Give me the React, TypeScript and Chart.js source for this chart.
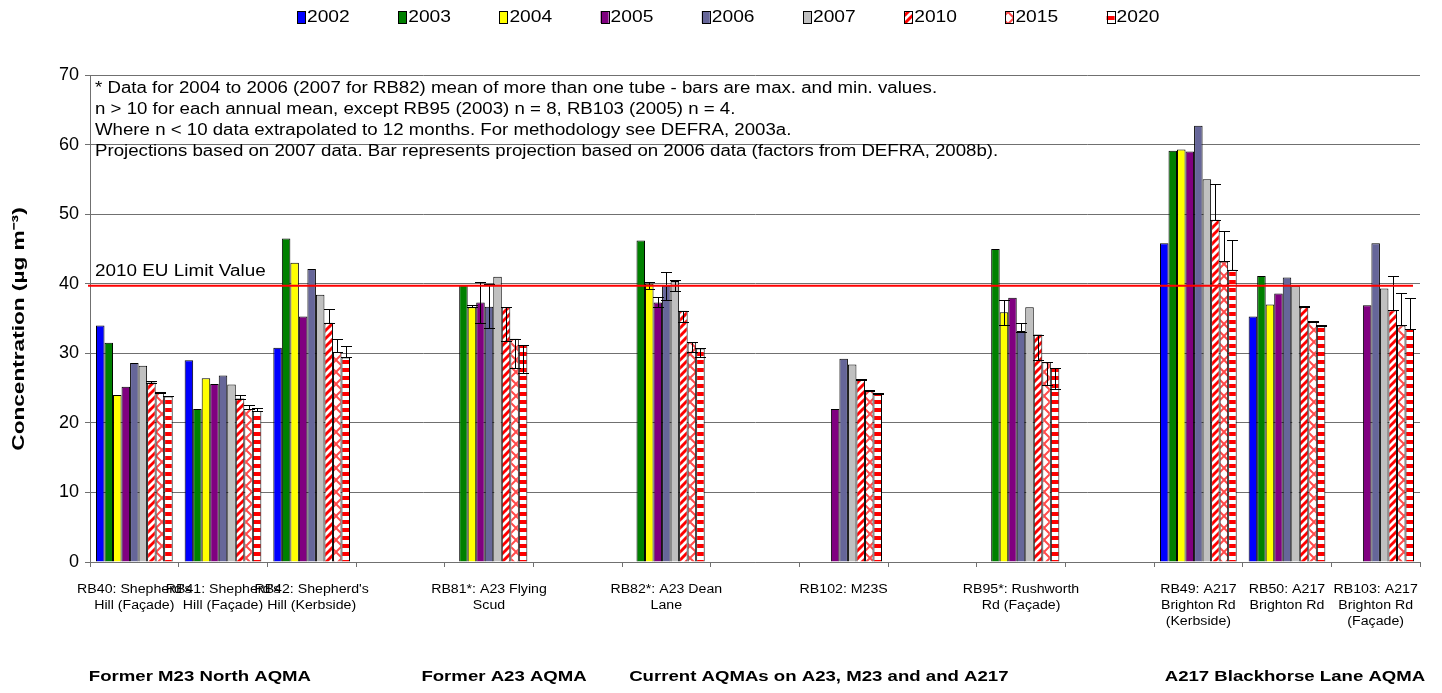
import React, { useEffect, useRef } from 'react';
import { Chart, registerables } from 'chart.js';

Chart.register(...registerables);

const categories: (string | string[])[] = [
  ["RB40: Shepherd's", 'Hill (Façade)'],
  ["RB41: Shepherd's", 'Hill (Façade)'],
  ["RB42: Shepherd's", 'Hill (Kerbside)'],
  '',
  ['RB81*: A23 Flying', 'Scud'],
  '',
  ['RB82*: A23 Dean', 'Lane'],
  '',
  'RB102: M23S',
  '',
  ['RB95*: Rushworth', 'Rd (Façade)'],
  '',
  ['RB49: A217', 'Brighton Rd', '(Kerbside)'],
  ['RB50: A217', 'Brighton Rd'],
  ['RB103: A217', 'Brighton Rd', '(Façade)'],
];

const years = ['2002', '2003', '2004', '2005', '2006', '2007', '2010', '2015', '2020'];

const s2002 = [34.0, 29.0, 30.8, null, null, null, null, null, null, null, null, null, 45.8, 35.3, null];
const s2003 = [31.5, 22.0, 46.5, null, 39.8, null, 46.2, null, null, null, 45.0, null, 59.1, 41.1, null];
const s2004 = [24.0, 26.4, 43.0, null, 36.6, null, 40.0, null, null, null, 35.9, null, 59.3, 37.0, null];
const s2005 = [25.2, 25.6, 35.3, null, 37.3, null, 37.3, null, 22.0, null, 38.0, null, 59.0, 38.6, 36.9];
const s2006 = [28.6, 26.8, 42.1, null, 36.7, null, 39.7, null, 29.2, null, 33.2, null, 62.7, 40.9, 45.8];
const s2007 = [28.2, 25.5, 38.4, null, 41.0, null, 40.4, null, 28.4, null, 36.6, null, 55.0, 39.7, 39.3];
const s2010 = [25.8, 23.5, 34.4, null, 36.6, null, 36.1, null, 26.2, null, 32.7, null, 49.2, 36.7, 36.2];
const s2015 = [24.3, 22.0, 30.2, null, 32.1, null, 31.6, null, 24.6, null, 28.7, null, 43.2, 34.5, 34.0];
const s2020 = [23.8, 21.7, 29.4, null, 31.2, null, 30.7, null, 24.2, null, 27.9, null, 42.0, 33.9, 33.5];

type Rng = number[] | null;
const eNone: Rng[] = Array(15).fill(null);
const e2004: Rng[] = [null, null, null, null, [36.6, 36.9], null, [39.2, 40.2], null, null, null, [34.1, 37.6], null, null, null, null];
const e2005: Rng[] = [null, null, null, null, [34.4, 40.3], null, [36.6, 38.1], null, null, null, null, null, null, null, null];
const e2006: Rng[] = [null, null, null, null, [33.6, 39.9], null, [37.7, 41.7], null, null, null, [33.1, 34.3], null, null, null, null];
const e2007: Rng[] = [null, null, null, null, null, null, [39.0, 40.5], null, null, null, null, null, null, null, null];
const e2010: Rng[] = [[25.8, 26.0], [23.5, 24.0], [34.4, 36.4], null, [31.8, 36.6], null, [34.5, 36.1], null, [26.2, 26.3], null, [29.1, 32.7], null, [49.2, 54.3], [36.7, 36.8], [36.2, 41.1]];
const e2015: Rng[] = [[24.3, 24.5], [22.0, 22.6], [30.2, 32.0], null, [27.9, 32.1], null, [30.2, 31.6], null, [24.6, 24.7], null, [25.5, 28.7], null, [43.2, 47.6], [34.5, 34.6], [34.0, 38.6]];
const e2020: Rng[] = [[23.8, 23.9], [21.7, 22.1], [29.4, 31.1], null, [27.1, 31.2], null, [29.4, 30.7], null, [24.2, 24.3], null, [24.8, 27.9], null, [42.0, 46.3], [33.9, 34.0], [33.5, 37.9]];

const EU_LIMIT = 39.7;
const EU_LABEL = '2010 EU Limit Value';
const Y_TITLE = 'Concentration (µg m⁻³)';

const notes = [
  '* Data for 2004 to 2006 (2007 for RB82) mean of more than one tube - bars are max. and min. values.',
  'n > 10 for each annual mean, except RB95 (2003) n = 8, RB103 (2005) n = 4.',
  'Where n < 10 data extrapolated to 12 months. For methodology see DEFRA, 2003a.',
  'Projections based on 2007 data. Bar represents projection based on 2006 data (factors from DEFRA, 2008b).',
];

const groupLabels = ['Former M23 North AQMA', 'Former A23 AQMA', 'Current AQMAs on A23, M23 and and A217', 'A217 Blackhorse Lane AQMA'];
const groupLabelAt = [0.74, 4.17, 7.72, 13.09];

const FONT = "'Liberation Sans', Arial, sans-serif";

function makePattern(kind: string): CanvasPattern | string {
  const c = document.createElement('canvas');
  const ctx = c.getContext('2d');
  if (!ctx) return '#fff';
  if (kind === 'diag') {
    c.width = 8; c.height = 8;
    ctx.fillStyle = '#fff';
    ctx.fillRect(0, 0, 8, 8);
    ctx.strokeStyle = '#ff0000';
    ctx.lineWidth = 3;
    for (const o of [-8, 0, 8]) {
      ctx.beginPath();
      ctx.moveTo(o - 1, 9);
      ctx.lineTo(o + 9, -1);
      ctx.stroke();
    }
  } else if (kind === 'cross') {
    c.width = 12; c.height = 12;
    ctx.fillStyle = '#fff';
    ctx.fillRect(0, 0, 12, 12);
    ctx.strokeStyle = '#ff4a4a';
    ctx.lineWidth = 2;
    ctx.beginPath();
    ctx.moveTo(-1, -1); ctx.lineTo(13, 13);
    ctx.moveTo(13, -1); ctx.lineTo(-1, 13);
    ctx.stroke();
  } else {
    c.width = 8; c.height = 8;
    ctx.fillStyle = '#fff';
    ctx.fillRect(0, 0, 8, 8);
    ctx.fillStyle = '#ff0000';
    ctx.fillRect(0, 0, 8, 4);
  }
  return ctx.createPattern(c, 'repeat') || '#fff';
}

function stretchText(ctx: CanvasRenderingContext2D, t: string, x: number, y: number, sx: number, align: CanvasTextAlign) {
  ctx.save();
  ctx.translate(x, y);
  ctx.scale(sx, 1);
  ctx.textAlign = align;
  ctx.fillText(t, 0, 0);
  ctx.restore();
}

export default function App() {
  const ref = useRef<HTMLCanvasElement | null>(null);

  useEffect(() => {
    if (!ref.current) return;
    const fills: (string | CanvasPattern)[] = [
      '#0000ff', '#008000', '#ffff00', '#800080', '#666699', '#c0c0c0',
      makePattern('diag'), makePattern('cross'), makePattern('horiz'),
    ];
    const series = [s2002, s2003, s2004, s2005, s2006, s2007, s2010, s2015, s2020];
    const errs = [eNone, eNone, e2004, e2005, e2006, e2007, e2010, e2015, e2020];

    const extras = {
      id: 'extras',
      afterDatasetsDraw(chart: any) {
        const ctx = chart.ctx as CanvasRenderingContext2D;
        const ys = chart.scales.y;
        const xs = chart.scales.x;
        const area = chart.chartArea;
        ctx.save();
        // error bars
        ctx.strokeStyle = '#000';
        ctx.lineWidth = 1;
        errs.forEach((er, di) => {
          const meta = chart.getDatasetMeta(di);
          er.forEach((r, i) => {
            if (!r) return;
            const el = meta.data[i];
            if (!el) return;
            const x = Math.round(el.x) + 0.5;
            const y1 = Math.round(ys.getPixelForValue(r[0])) + 0.5;
            const y2 = Math.round(ys.getPixelForValue(r[1])) + 0.5;
            ctx.beginPath();
            ctx.moveTo(x, y1); ctx.lineTo(x, y2);
            ctx.moveTo(x - 5.5, y1); ctx.lineTo(x + 5.5, y1);
            ctx.moveTo(x - 5.5, y2); ctx.lineTo(x + 5.5, y2);
            ctx.stroke();
          });
        });
        // EU limit line
        const ey = ys.getPixelForValue(EU_LIMIT);
        ctx.strokeStyle = '#ff0000';
        ctx.lineWidth = 2;
        ctx.beginPath();
        ctx.moveTo(area.left - 2, ey);
        ctx.lineTo(area.right - 7, ey);
        ctx.stroke();
        ctx.fillStyle = '#000';
        ctx.textBaseline = 'alphabetic';
        ctx.font = `16px ${FONT}`;
        stretchText(ctx, EU_LABEL, area.left + 5, ey - 10, 1.18, 'left');
        // notes
        notes.forEach((t, i) => {
          stretchText(ctx, t, area.left + 5, area.top + 18 + i * 21, 1.166, 'left');
        });
        // x category labels
        ctx.font = `12px ${FONT}`;
        ctx.textBaseline = 'middle';
        categories.forEach((lab, i) => {
          const lines = Array.isArray(lab) ? lab : [lab];
          const x = xs.getPixelForValue(i);
          lines.forEach((ln, k) => {
            if (ln) stretchText(ctx, ln, x, area.bottom + 28 + k * 16, 1.18, 'center');
          });
        });
        // group labels
        ctx.font = `bold 15px ${FONT}`;
        groupLabels.forEach((t, i) => {
          stretchText(ctx, t, xs.getPixelForValue(groupLabelAt[i]), 677, 1.24, 'center');
        });
        // y title
        ctx.font = `bold 17px ${FONT}`;
        ctx.save();
        ctx.translate(19, 329);
        ctx.rotate(-Math.PI / 2);
        stretchText(ctx, Y_TITLE, 0, 0, 1.33, 'center');
        ctx.restore();
        // legend
        ctx.font = `16px ${FONT}`;
        years.forEach((yr, i) => {
          const bx = 297 + i * 101.2;
          ctx.fillStyle = fills[i] as any;
          ctx.fillRect(bx, 11, 8, 12);
          ctx.strokeStyle = '#000';
          ctx.lineWidth = 1;
          ctx.strokeRect(Math.round(bx) + 0.5, 11.5, 8, 12);
          ctx.fillStyle = '#000';
          stretchText(ctx, yr, bx + 10, 18, 1.2, 'left');
        });
        ctx.restore();
      },
    };

    const chart = new Chart(ref.current, {
      type: 'bar',
      data: {
        labels: categories as any,
        datasets: years.map((yr, i) => ({
          label: yr,
          data: series[i] as any,
          backgroundColor: fills[i] as any,
          borderColor: '#000',
          borderWidth: 1,
          categoryPercentage: 0.865,
          barPercentage: 1.0,
        })),
      },
      options: {
        responsive: false,
        animation: false,
        devicePixelRatio: 1,
        layout: { padding: { top: 75, right: 22, left: 0, bottom: 0 } },
        plugins: { legend: { display: false }, tooltip: { enabled: false } },
        scales: {
          x: {
            grid: { display: true, drawOnChartArea: false, drawTicks: true, tickLength: 5, color: '#707070', offset: true },
            border: { color: '#707070' },
            ticks: {
              autoSkip: false, maxRotation: 0, minRotation: 0, color: 'rgba(0,0,0,0)', padding: 14,
              font: { family: FONT, size: 12, lineHeight: 1.33 },
            },
            afterFit: (s: any) => { s.height = 131; },
          },
          y: {
            min: 0, max: 70,
            ticks: { stepSize: 10, color: '#000', padding: 6, font: { family: FONT, size: 18 } },
            grid: { color: '#707070', tickLength: 5 },
            border: { color: '#707070' },
            title: { display: false },
            afterFit: (s: any) => { s.width = 90; },
          },
        },
      },
      plugins: [extras],
    });
    return () => chart.destroy();
  }, []);

  return (
    <div style={{ position: 'fixed', left: 0, top: 0, width: 1442, height: 693, background: '#fff' }}>
      <canvas ref={ref} width={1442} height={693} style={{ width: 1442, height: 693, display: 'block' }} />
    </div>
  );
}
